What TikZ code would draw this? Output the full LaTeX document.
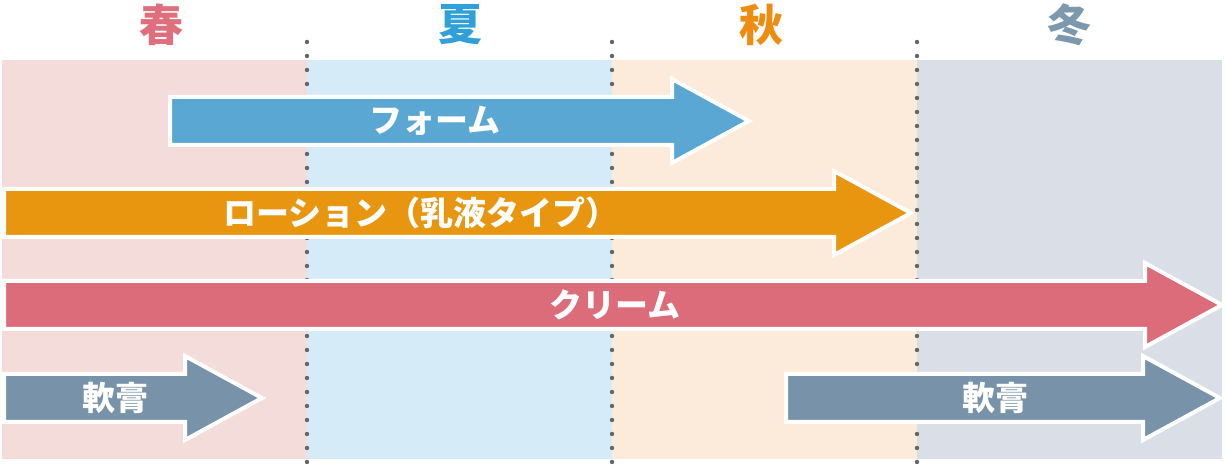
\documentclass[tikz,border=0pt]{standalone}
\usepackage{fontspec}
\newfontfamily\jp{Noto Sans CJK JP}
\usepackage{tikz}
\usetikzlibrary{calc}
\definecolor{haruBg}{HTML}{F3DCD9}
\definecolor{natsuBg}{HTML}{D5EBF7}
\definecolor{akiBg}{HTML}{FCEADB}
\definecolor{fuyuBg}{HTML}{DADFE7}
\definecolor{haruC}{HTML}{DF6F7C}
\definecolor{natsuC}{HTML}{2FA0D9}
\definecolor{akiC}{HTML}{EE8C10}
\definecolor{fuyuC}{HTML}{7D98AD}
\definecolor{foamC}{HTML}{5BA7D3}
\definecolor{lotionC}{HTML}{E8960F}
\definecolor{creamC}{HTML}{DC6C79}
\definecolor{nankoC}{HTML}{7893A9}
\def\bandarrow[#1](#2:#3:#4){\draw[#1] (#2,#4-24) -- (#3-77,#4-24) -- (#3-77,#4-42) -- (#3,#4) -- (#3-77,#4+42) -- (#3-77,#4+24) -- (#2,#4+24) -- cycle;}
\tikzset{
  season/.style={font=\jp\bfseries\fontsize{22pt}{22pt}\selectfont},
  itemtext/.style={text=white, font=\jp\bfseries\fontsize{16.5pt}{16.5pt}\selectfont},
  arrowline/.style={draw=white, line width=2pt, line join=miter}
}

\begin{document}
\begin{tikzpicture}[x=0.5pt, y=-0.5pt]
		%%%%% START %%%%%
		\useasboundingbox (0, 0) rectangle (1226, 474);
		
		\fill[haruBg] (2, 60) rectangle (307, 459);
		\fill[natsuBg] (307, 60) rectangle (612, 459);
		\fill[akiBg] (612, 60) rectangle (917, 459);
		\fill[fuyuBg] (917, 60) rectangle (1222, 459);
		
		\node[season, text=haruC] (haru) at (161, 25) {春};
		\node[season, text=natsuC] (natsu) at (460, 25) {夏};
		\node[season, text=akiC] (aki) at (761, 25) {秋};
		\node[season, text=fuyuC] (fuyu) at (1069, 25) {冬};
		
		\foreach \x in {307, 612, 917}
			\draw[line width=2.2pt, line cap=round, color=black!60, dash pattern=on 0pt off 7pt] (\x, 42) -- (\x, 464);
		
		\bandarrow[arrowline, fill=foamC](170:749:121);
		\bandarrow[arrowline, fill=lotionC](4:911:213);
		\bandarrow[arrowline, fill=creamC](4:1222:305);
		\bandarrow[arrowline, fill=nankoC](4:262:398);
		\bandarrow[arrowline, fill=nankoC](786:1220:398);
		
		\node[itemtext] (foam) at (435, 121) {フォーム};
		\node[itemtext] (lotion) at (421, 213) {ローション（乳液タイプ）};
		\node[itemtext] (cream) at (615, 305) {クリーム};
		\node[itemtext] (nanko1) at (115, 398) {軟膏};
		\node[itemtext] (nanko2) at (995, 398) {軟膏};
		
		%%%%% END %%%%%
	\end{tikzpicture}
\end{document}
